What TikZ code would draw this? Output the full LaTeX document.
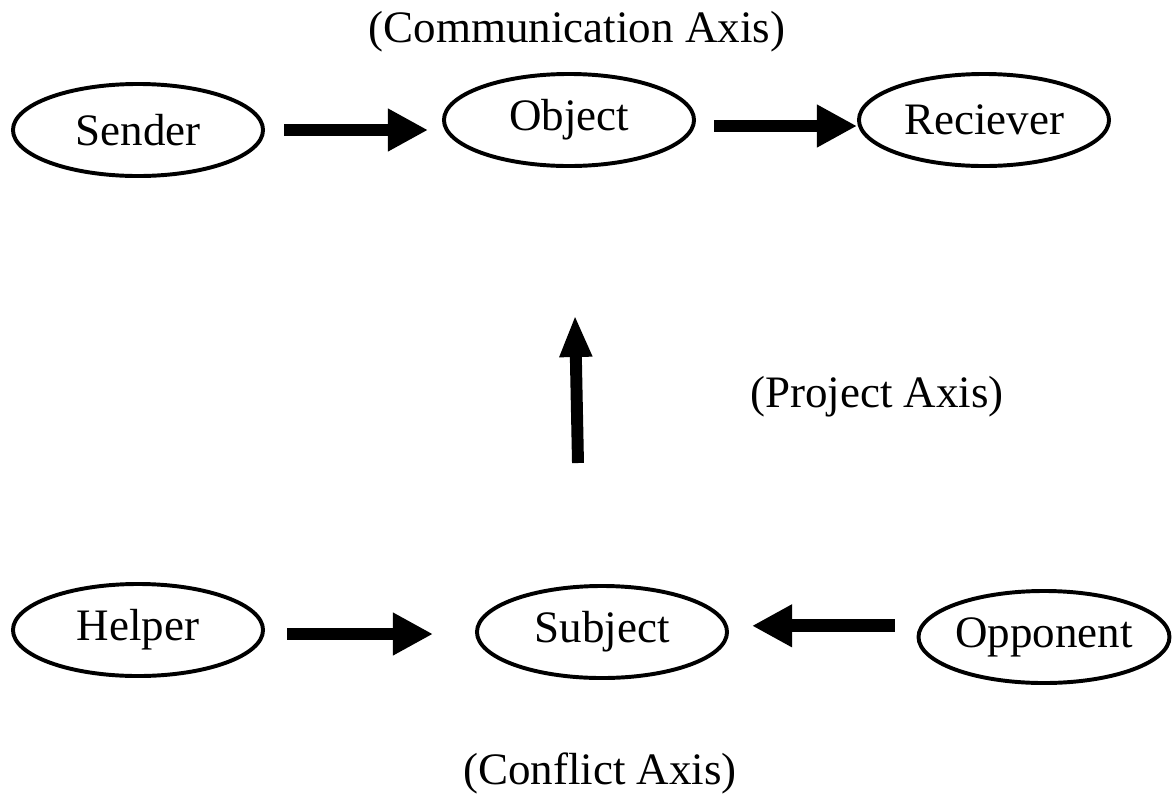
\documentclass[tikz,border=0pt]{standalone}
\usepackage{fontspec}
\setmainfont{Liberation Serif}
\usetikzlibrary{shapes.geometric, arrows.meta}
\definecolor{ink}{RGB}{0,0,0}
\tikzset{
    actant/.style={
        ellipse, draw=ink, line width=2.8pt,
        minimum width=6.25cm, minimum height=2.3cm, inner sep=0pt,
        font=\fontsize{32}{38}\selectfont, text=ink
    },
    bigarrow/.style={-{Triangle[length=1cm, width=1cm]}, line width=9pt, color=ink},
    uparrow/.style={-{Triangle[length=1.05cm, width=0.75cm]}, line width=8.5pt, color=ink},
    axislabel/.style={font=\fontsize{32}{38}\selectfont, text=ink}
}

\begin{document}
\begin{tikzpicture}[x=0.025cm, y=-0.025cm]
    \useasboundingbox (0,0) rectangle (1173,798);

    % communication axis
    \node[axislabel] (commlabel) at (577,32) {(Communication Axis)};
    \node[actant] (sender) at (138,130) {Sender};
    \node[actant] (object) at (569,120) {Object};
    \node[actant] (receiver) at (984,120) {Reciever};
    \draw[bigarrow, shorten <=0.475cm, shorten >=0.35cm] (sender.east) -- (sender.east -| object.west);
    \draw[bigarrow, shorten <=0.45cm] ([yshift=-0.15cm]object.east) -- ([yshift=-0.15cm]object.east -| receiver.west);

    % project axis
    \coordinate (projbase) at (578,463);
    \coordinate (projtip) at (575,315);
    \draw[uparrow] (projbase) -- (projtip);
    \node[axislabel] (projlabel) at (877,397) {(Project Axis)};

    % conflict axis
    \node[actant] (helper) at (138,630) {Helper};
    \node[actant] (subject) at (602,632) {Subject};
    \node[actant] (opponent) at (1044,637) {Opponent};
    \draw[bigarrow, shorten <=0.55cm, shorten >=1.05cm] ([yshift=-0.1cm]helper.east) -- ([yshift=-0.1cm]helper.east -| subject.west);
    \draw[bigarrow, shorten <=0.55cm, shorten >=0.575cm] ([yshift=0.28cm]opponent.west) -- ([yshift=0.28cm]opponent.west -| subject.east);
    \node[axislabel] (conflabel) at (600,773) {(Conflict Axis)};
\end{tikzpicture}
\end{document}
